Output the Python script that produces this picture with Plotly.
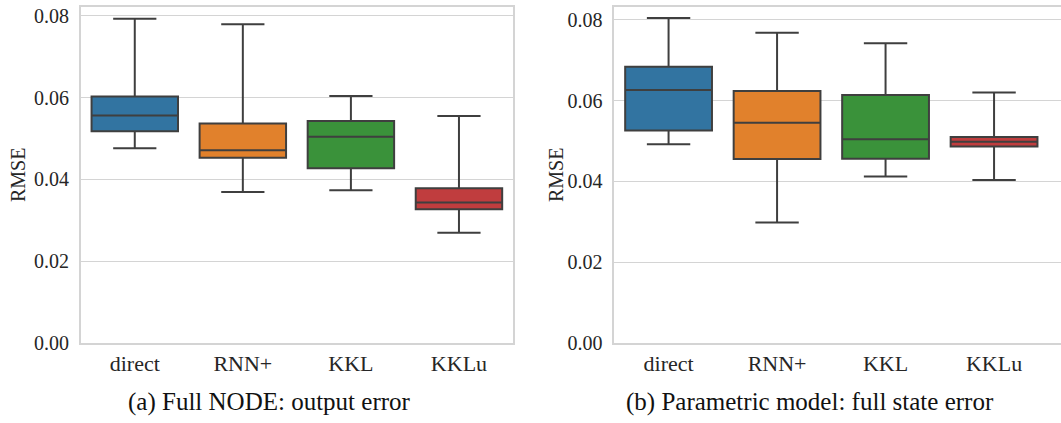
import plotly.graph_objects as go

categories = ["direct", "RNN+", "KKL", "KKLu"]
colors = ["#3274a1", "#e1812c", "#3a923a", "#c03d3e"]

# Panel (a): Full NODE: output error
a_low = [0.0476, 0.0369, 0.0373, 0.0269]
a_q1 = [0.0518, 0.0453, 0.0427, 0.0327]
a_med = [0.0556, 0.0471, 0.0504, 0.0343]
a_q3 = [0.0603, 0.0537, 0.0543, 0.0378]
a_high = [0.0793, 0.0780, 0.0604, 0.0555]

# Panel (b): Parametric model: full state error
b_low = [0.0492, 0.0298, 0.0412, 0.0403]
b_q1 = [0.0526, 0.0455, 0.0456, 0.0486]
b_med = [0.0626, 0.0545, 0.0504, 0.0498]
b_q3 = [0.0684, 0.0624, 0.0614, 0.0510]
b_high = [0.0805, 0.0768, 0.0742, 0.0620]

y_ticks = [0.0, 0.02, 0.04, 0.06, 0.08]
y_ticktext = ["0.00", "0.02", "0.04", "0.06", "0.08"]
captions = ["(a) Full NODE: output error", "(b) Parametric model: full state error"]

FONT = "Liberation Serif"
LINE = "#3f3f3f"
GRID = "#d4d4d4"

fig = go.Figure()

panels = [
    ("x", "y", a_low, a_q1, a_med, a_q3, a_high),
    ("x2", "y2", b_low, b_q1, b_med, b_q3, b_high),
]
for xa, ya, lo, q1, md, q3, hi in panels:
    for i, cat in enumerate(categories):
        fig.add_trace(go.Box(
            x=[i], q1=[q1[i]], median=[md[i]], q3=[q3[i]],
            lowerfence=[lo[i]], upperfence=[hi[i]],
            width=0.8, whiskerwidth=0.5,
            fillcolor=colors[i], line=dict(color=LINE, width=2),
            boxpoints=False, showlegend=False, name=cat,
            xaxis=xa, yaxis=ya, hoverinfo="skip",
        ))


def xaxis_cfg():
    return dict(
        tickmode="array", tickvals=list(range(len(categories))), ticktext=categories,
        showgrid=False, zeroline=False, showline=True, mirror=True, automargin=False,
        linecolor=GRID, linewidth=1.5, ticks="",
        tickfont=dict(family=FONT, size=22, color="#262626"),
    )


def yaxis_cfg():
    return dict(
        tickmode="array", tickvals=y_ticks, ticktext=y_ticktext,
        showgrid=True, gridcolor=GRID, gridwidth=1, zeroline=False,
        showline=True, mirror=True, linecolor=GRID, linewidth=1.5, automargin=False,
        ticks="outside", ticklen=6, tickcolor="rgba(0,0,0,0)",
        tickfont=dict(family=FONT, size=20, color="#262626"),
    )


fig.update_layout(
    template="none",
    width=1061, height=423,
    margin=dict(l=0, r=0, t=0, b=0, autoexpand=False),
    font=dict(family=FONT, color="#262626"),
    paper_bgcolor="white", plot_bgcolor="white",
    xaxis=dict(domain=[0.0761, 0.4835], range=[-0.5, 3.5], **xaxis_cfg()),
    yaxis=dict(domain=[0.1898, 0.9835], range=[0, 0.0822], **yaxis_cfg()),
    xaxis2=dict(domain=[0.579, 1.0], range=[-0.5, 3.617], anchor="y2", **xaxis_cfg()),
    yaxis2=dict(domain=[0.1898, 0.9835], range=[0, 0.0832], anchor="x2", **yaxis_cfg()),
    annotations=[
        dict(text="RMSE", x=18 / 1061, y=1 - 175 / 423, xref="paper", yref="paper",
             textangle=-90, showarrow=False, xanchor="center", yanchor="middle",
             font=dict(family=FONT, size=20, color="#262626")),
        dict(text="RMSE", x=556 / 1061, y=1 - 175 / 423, xref="paper", yref="paper",
             textangle=-90, showarrow=False, xanchor="center", yanchor="middle",
             font=dict(family=FONT, size=20, color="#262626")),
        dict(text=captions[0], x=269 / 1061, y=1 - 402 / 423, xref="paper", yref="paper",
             showarrow=False, xanchor="center", yanchor="middle",
             font=dict(family=FONT, size=25, color="#111111")),
        dict(text=captions[1], x=810 / 1061, y=1 - 402 / 423, xref="paper", yref="paper",
             showarrow=False, xanchor="center", yanchor="middle",
             font=dict(family=FONT, size=25, color="#111111")),
    ],
)

fig.write_html("out.html")
